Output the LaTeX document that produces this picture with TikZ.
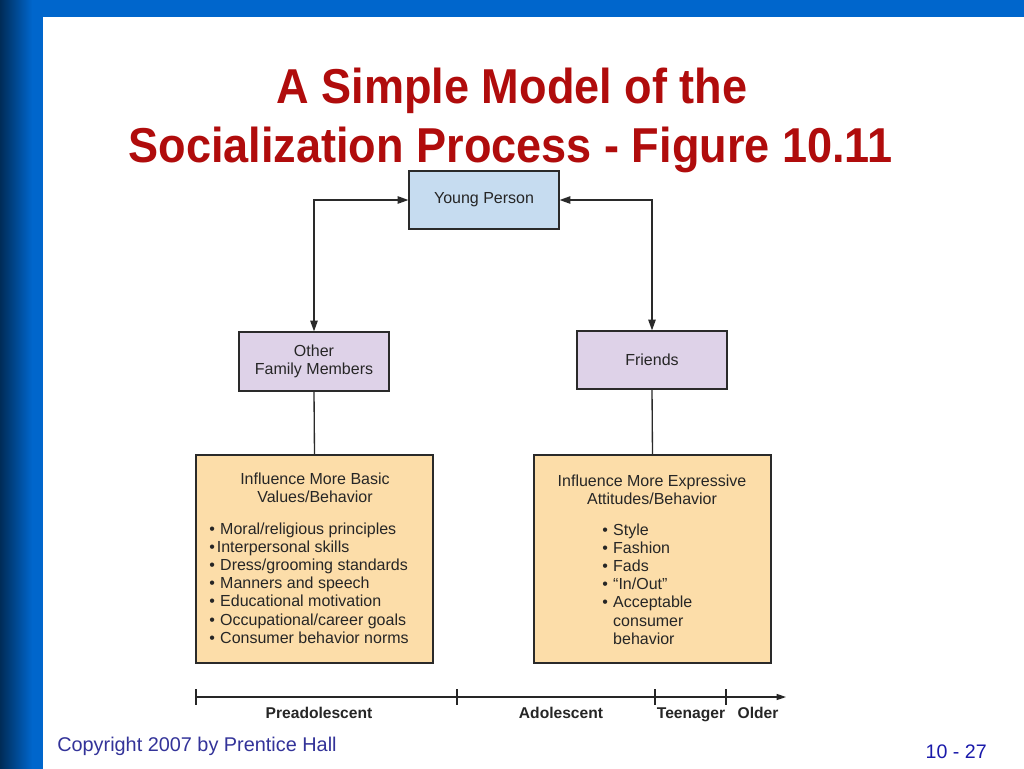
\documentclass[tikz,border=0pt]{standalone}
\usepackage{fontspec}
\setmainfont{Liberation Sans}
\usetikzlibrary{arrows.meta,positioning}
\definecolor{barblue}{HTML}{0066CC}
\definecolor{barnavy}{HTML}{002850}
\definecolor{titlered}{HTML}{B00C0C}
\definecolor{ypblue}{HTML}{C6DCF0}
\definecolor{lav}{HTML}{DED2E8}
\definecolor{peach}{HTML}{FCDDA9}
\definecolor{linegray}{HTML}{2A2A2A}
\definecolor{copyblue}{HTML}{333399}
\definecolor{pageblue}{HTML}{1A1AAA}
\newcommand{\bul}{•\hspace{4pt}}
\tikzset{
  boxtext/.style={font=\fontsize{12pt}{13.65pt}\selectfont, text=black!85},
  smallbox/.style={draw=linegray, line width=0.9pt, inner sep=0pt, minimum width=112.5pt, minimum height=43.5pt, boxtext, align=center},
  bigbox/.style={draw=linegray, line width=0.9pt, fill=peach, inner sep=0pt, minimum width=177.75pt, minimum height=156pt},
  conn/.style={draw=linegray, line width=1pt},
  arr/.style={conn, {Triangle[length=8pt,width=5.5pt]}-{Triangle[length=8pt,width=5.5pt]}},
  tickline/.style={draw=black!85, line width=0.9pt},
  agelabel/.style={font=\fontsize{11.7pt}{13pt}\selectfont\bfseries, text=black!85, inner sep=0pt, anchor=base},
  titletext/.style={font=\fontsize{36.75pt}{45pt}\selectfont\bfseries, text=titlered, inner sep=0pt, anchor=base}
}
\begin{document}
\begin{tikzpicture}[x=0.75pt,y=-0.75pt]
\useasboundingbox (0,0) rectangle (1024,768);
% background
\fill[white] (0,0) rectangle (1024,768);
\fill[barblue] (43,-2) rectangle (1026,17);
\shade[left color=barnavy, right color=barblue] (-2,-2) rectangle (32,771);
\fill[barblue] (31.5,-2) rectangle (43,771);
% title
\node[titletext] (t1) at (512,103) {\scalebox{0.92}[1]{A Simple Model of the}};
\node[titletext] (t2) at (510.5,162) {\scalebox{0.92}[1]{Socialization Process - Figure 10.11}};
% boxes
\node[smallbox, fill=ypblue] (yp) at (484,200) {Young Person};
\node[smallbox, fill=lav, minimum height=44.25pt] (ofm) at (314,361.5) {Other\\Family Members};
\node[smallbox, fill=lav] (fr) at (652,360) {Friends};
\node[bigbox] (lb) at (314.5,559) {};
\node[bigbox] (rb) at (652.5,559) {};
% connectors
\draw[arr] (yp.west) -| (ofm.north);
\draw[arr] (yp.east) -| (fr.north);
\draw[conn] (ofm.south) -- (lb.north);
\draw[conn] (fr.south) -- (rb.north);
% box contents
\node[boxtext, align=center, inner sep=0pt] (lh) at (315,488) {Influence More Basic\\Values/Behavior};
\node[boxtext, align=left, inner sep=0pt, anchor=west] (ll) at (209,583) {%
\bul Moral/religious principles\\
•\hspace{1.5pt}Interpersonal skills\\
\bul Dress/grooming standards\\
\bul Manners and speech\\
\bul Educational motivation\\
\bul Occupational/career goals\\
\bul Consumer behavior norms};
\node[boxtext, align=center, inner sep=0pt] (rh) at (652,490) {Influence More Expressive\\Attitudes/Behavior};
\node[boxtext, align=left, inner sep=0pt, anchor=west] (rl) at (602,584) {%
\bul Style\\
\bul Fashion\\
\bul Fads\\
\bul “In/Out”\\
\bul Acceptable\\
\phantom{\bul}consumer\\
\phantom{\bul}behavior};
% timeline
\coordinate (a0) at (196,697);
\coordinate (a1) at (457,697);
\coordinate (a2) at (655,697);
\coordinate (a3) at (726,697);
\coordinate (aend) at (786,697);
\draw[tickline, -{Triangle[length=7pt,width=4.5pt]}] (a0) -- (aend);
\foreach \c in {a0,a1,a2,a3} \draw[tickline] ([yshift=6pt]\c) -- ([yshift=-6pt]\c);
\node[agelabel] (l0) at (319,718) {Preadolescent};
\node[agelabel] (l1) at (561,718) {Adolescent};
\node[agelabel] (l2) at (691,718) {Teenager};
\node[agelabel] (l3) at (758,718) {Older};
% footer
\node[font=\fontsize{14.9pt}{18pt}\selectfont, text=copyblue, anchor=base west, inner sep=0pt] (copy) at (57,751) {Copyright 2007 by Prentice Hall};
\node[font=\fontsize{14.7pt}{18pt}\selectfont, text=pageblue, anchor=base east, inner sep=0pt] (pg) at (987,758) {10 - 27};
\end{tikzpicture}
\end{document}
